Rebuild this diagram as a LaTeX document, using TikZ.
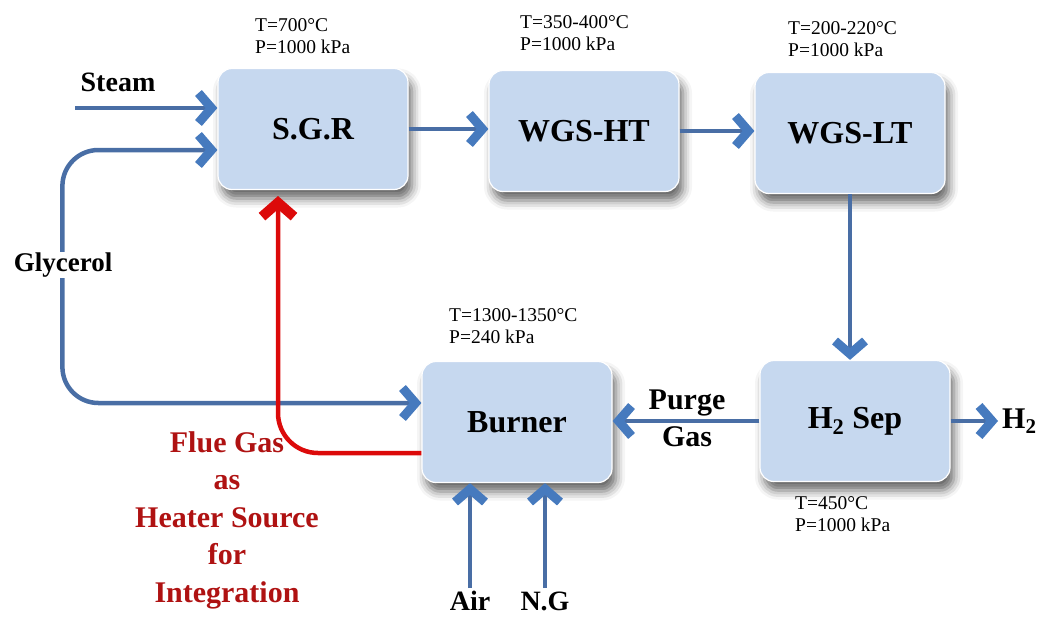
\documentclass[tikz,border=0pt]{standalone}
\usepackage{fontspec}
\setmainfont{Liberation Serif}
\usepackage{tikz}
\usetikzlibrary{arrows.meta}
\usetikzlibrary{shadows.blur}
\definecolor{unitfill}{RGB}{198,216,239}
\definecolor{pipeblue}{RGB}{73,110,165}
\definecolor{chevblue}{RGB}{70,122,190}
\definecolor{fluered}{RGB}{220,10,10}
\definecolor{textred}{RGB}{175,18,18}
\tikzset{
  chev/.tip={Straight Barb[length=13pt,width=30pt,line width=9pt,color=chevblue]},
  redchev/.tip={Straight Barb[length=14pt,width=32pt,line width=10pt,color=fluered]},
  unit/.style={rounded corners=14pt, fill=unitfill, draw=white, line width=1.2pt,
    minimum width=190pt, minimum height=121pt,
    font=\fontsize{32}{36}\selectfont\bfseries,
    blur shadow={shadow xshift=4pt, shadow yshift=-9pt, shadow blur radius=9pt, shadow opacity=60}},
  cond/.style={anchor=north west, inner sep=0pt, align=left, font=\fontsize{19.5}{22}\selectfont},
  side/.style={inner sep=1pt, align=center, font=\fontsize{28}{37}\selectfont\bfseries},
  pipe/.style={draw=pipeblue, line width=4.5pt, -chev},
  flue/.style={draw=fluered, line width=4.5pt, rounded corners=40pt, -redchev}
}
\newcommand{\unitbox}[3] {\node[unit] at (#1) (#2) {#3};}
\newcommand{\unitcond}[4] {\node[cond] at (#1) (#2) {T=#3\\P=#4};}
\newcommand{\sidelabel}[3] {\node[side] at (#1) (#2) {#3};}
\newcommand{\pipe}[2] {\draw[pipe] (#1) -- (#2);}

\begin{document}
\begin{tikzpicture}[x=1pt, y=-1pt]
\useasboundingbox (0,0) rectangle (1047,616);

% process units
\unitbox {313,129} {sgr} {S.G.R}
\unitbox {584,131} {wgsht} {WGS-HT}
\unitbox {850,133} {wgslt} {WGS-LT}
\unitbox {517,422} {burner} {Burner}
\unitbox {855,421} {hsep} {H\textsubscript{2} Sep}

% operating conditions
\unitcond {255,18} {sgrc} {700°C} {1000 kPa}
\unitcond {520,15} {wgshtc} {350-400°C} {1000 kPa}
\unitcond {788,21} {wgsltc} {200-220°C} {1000 kPa}
\unitcond {449,308} {burnerc} {1300-1350°C} {240 kPa}
\unitcond {795,496} {hsepc} {450°C} {1000 kPa}

% feeds and products
\coordinate (steamin) at (75,108);
\coordinate (airin) at (470,588);
\coordinate (ngin) at (545,588);
\coordinate (h2out) at (998,421);
\coordinate (fluetop) at (278,196);

\pipe {steamin} {sgr.west |- steamin}
\pipe {sgr.east} {wgsht.west |- sgr.east}
\pipe {wgsht.east} {wgslt.west |- wgsht.east}
\pipe {wgslt.south} {hsep.north -| wgslt.south}
\pipe {hsep.west} {burner.east |- hsep.west}
\pipe {hsep.east} {h2out}
\pipe {airin} {airin |- burner.south}
\pipe {ngin} {ngin |- burner.south}
\draw[pipe, chev-chev, rounded corners=36pt] ([yshift=-21pt]sgr.west) -- ++(-155,0) |- ([yshift=19pt]burner.west);

% heat integration
\draw[flue] ([yshift=-31pt]burner.west) -| (fluetop);

% labels
\sidelabel {118,82} {steam} {Steam}
\node[side, fill=white, font=\fontsize{27}{30}\selectfont\bfseries] (glyc) at (63,265) {Glycerol};
\node[side, font=\fontsize{30}{37}\selectfont\bfseries] (purge) at (687,418) {Purge\\Gas};
\node[side, anchor=west, font=\fontsize{30}{36}\selectfont\bfseries] (h2) at (1001,421) {H\textsubscript{2}};
\sidelabel {470,601} {air} {Air}
\sidelabel {545,601} {ng} {N.G}
\node[side, text=textred, font=\fontsize{30}{37.5}\selectfont\bfseries] (fluetext) at (227,520) {Flue Gas\\as\\Heater Source\\for\\Integration};
\end{tikzpicture}
\end{document}
